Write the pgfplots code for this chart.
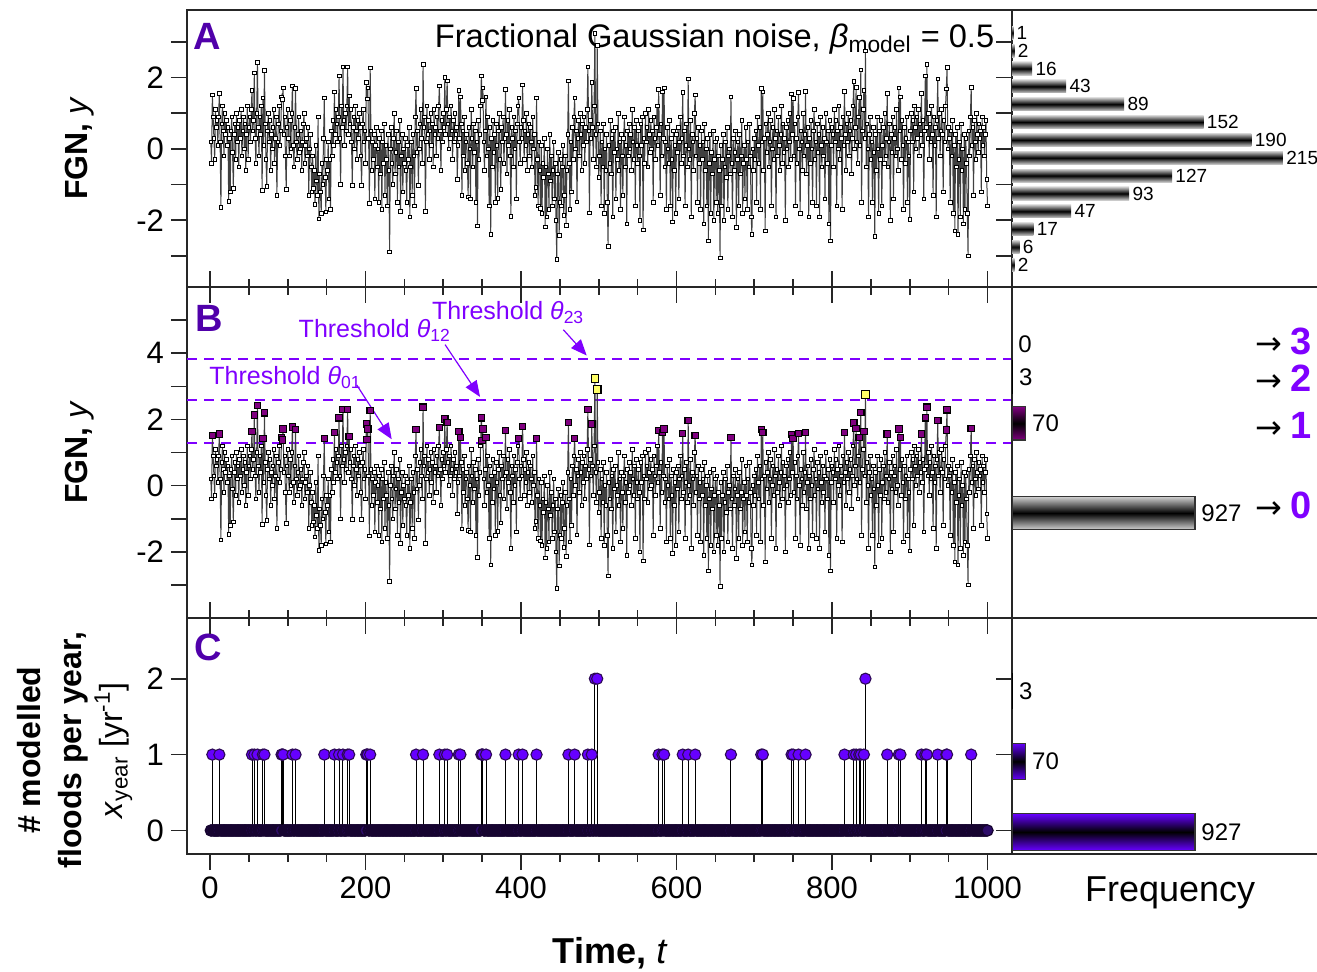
\documentclass[border=0pt]{standalone}
\usepackage{pgfplots}
\pgfplotsset{compat=1.18}
\usepackage{pgfplotstable}
\usepackage{fontspec}
\setmainfont{Liberation Sans}
\newfontfamily\djv{DejaVu Sans}
\usetikzlibrary{arrows.meta}
\definecolor{panelc}{RGB}{80,0,170}
\definecolor{vio}{RGB}{127,0,255}
\definecolor{blu}{RGB}{102,0,255}
\definecolor{purp}{RGB}{128,0,128}
\definecolor{yel}{RGB}{255,255,102}
\definecolor{dkp}{RGB}{45,10,85}
\definecolor{zfill}{RGB}{45,12,105}
\definecolor{zedge}{RGB}{22,4,48}
\pgfplotsset{/pgf/number format/assume math mode=true}
\tikzset{arr/.style={anchor=base west, inner sep=0}}
\pgfplotstableread[row sep=\\]{y\\
0.2\\-0.4\\1.51\\0.9\\0.3\\-0.3\\1.1\\0.6\\0.8\\0.1\\
0.9\\1.56\\0.2\\-1.64\\0.7\\1.2\\0.5\\-0.2\\1.0\\0.4\\
0.8\\0.1\\0.6\\-1.47\\0.3\\-1.2\\0.5\\0.9\\-0.1\\-1.1\\
0.4\\0.7\\-0.3\\1.0\\0.2\\0.6\\-0.5\\0.8\\0.3\\1.1\\
-0.2\\0.5\\0.9\\0.0\\0.7\\-0.6\\0.4\\1.2\\-0.3\\0.6\\
0.9\\0.2\\1.1\\1.64\\0.5\\0.8\\2.13\\0.3\\-0.4\\1.0\\
2.42\\0.6\\-0.2\\0.9\\0.4\\1.2\\-1.17\\1.43\\0.1\\2.20\\
0.7\\-0.3\\-1.05\\0.5\\1.0\\0.2\\0.8\\-0.6\\0.4\\0.0\\
0.6\\1.1\\-0.4\\0.3\\0.9\\-1.3\\0.2\\0.7\\1.2\\0.1\\
0.5\\1.46\\1.38\\1.71\\0.4\\0.9\\-0.2\\-1.14\\0.6\\1.1\\
0.3\\-0.2\\0.8\\0.0\\1.0\\1.77\\0.1\\-0.5\\0.6\\1.69\\
0.2\\-0.3\\0.4\\0.9\\-0.1\\0.0\\0.5\\-0.6\\0.2\\0.7\\
1.0\\-0.4\\0.1\\0.3\\-0.2\\0.6\\-1.3\\0.0\\0.4\\-0.5\\
-1.2\\-0.2\\-1.1\\-0.6\\-1.55\\0.1\\-0.9\\-1.3\\0.9\\-1.96\\
-0.7\\-1.2\\-1.8\\-0.4\\-1.0\\0.3\\1.43\\-0.8\\-1.76\\-0.3\\
-0.6\\0.2\\-1.4\\-0.3\\-1.7\\0.5\\-0.2\\0.8\\0.1\\1.60\\
0.4\\1.1\\0.7\\0.2\\0.9\\2.05\\0.3\\-1.0\\1.2\\0.6\\
2.30\\0.8\\0.1\\1.0\\0.5\\1.2\\2.30\\0.4\\1.49\\0.7\\
1.1\\0.2\\-1.02\\0.6\\0.9\\0.0\\1.2\\0.5\\-0.3\\0.8\\
0.3\\1.0\\0.6\\-0.2\\-1.02\\0.7\\1.1\\0.2\\0.5\\-0.4\\
1.86\\1.40\\1.71\\0.3\\-1.52\\2.27\\0.5\\-0.6\\0.2\\-0.3\\
0.4\\-1.4\\0.1\\0.6\\-0.5\\0.0\\-1.5\\0.3\\-0.7\\0.5\\
-1.7\\0.2\\-0.4\\0.7\\-1.3\\0.1\\-0.3\\-1.6\\0.4\\-0.6\\
-2.89\\0.0\\0.6\\-0.4\\-1.0\\0.3\\1.0\\-0.7\\-0.1\\0.5\\
-1.5\\0.2\\-0.5\\0.8\\-1.75\\-0.2\\0.4\\-1.2\\0.0\\-0.4\\
0.3\\-0.6\\-1.5\\0.1\\-0.3\\0.6\\-1.9\\-0.5\\0.2\\-1.3\\
0.4\\-0.2\\-1.6\\0.9\\1.69\\-0.1\\0.5\\-1.03\\0.0\\0.7\\
1.1\\0.3\\-0.4\\2.37\\0.6\\0.9\\-1.75\\0.2\\1.2\\0.4\\
0.8\\-0.3\\0.5\\1.0\\0.1\\0.7\\-0.5\\1.1\\0.4\\0.6\\
-0.2\\0.9\\0.3\\1.2\\1.76\\0.5\\-0.6\\0.8\\0.2\\1.0\\
0.6\\2.01\\0.4\\1.1\\1.91\\0.7\\0.0\\0.9\\0.3\\1.2\\
0.5\\-0.3\\0.8\\0.2\\1.0\\0.4\\0.6\\-0.85\\0.1\\1.64\\
0.3\\1.46\\0.7\\-1.31\\0.5\\-0.2\\0.9\\-0.6\\0.2\\0.4\\
-0.4\\-1.35\\0.6\\0.0\\-1.4\\1.1\\0.3\\-0.5\\0.7\\-0.1\\
0.5\\-1.5\\0.2\\-2.16\\0.8\\-0.3\\0.4\\1.2\\2.05\\1.36\\
1.71\\0.2\\-0.6\\0.5\\1.46\\-0.2\\0.9\\0.0\\-1.6\\0.6\\
-2.39\\0.3\\-0.5\\0.8\\-0.1\\0.4\\-1.5\\0.7\\0.1\\-1.38\\
0.5\\1.0\\-0.3\\-1.13\\0.6\\0.2\\0.9\\-0.4\\0.3\\1.66\\
0.4\\-0.7\\0.8\\0.1\\1.1\\-0.2\\-1.89\\0.6\\0.3\\-0.5\\
0.9\\0.0\\0.5\\-1.4\\0.7\\1.2\\1.43\\0.2\\-0.4\\0.6\\
0.3\\1.79\\0.8\\-0.3\\0.5\\0.1\\1.0\\-0.6\\0.4\\0.7\\
-0.2\\0.6\\0.2\\-0.5\\0.9\\0.0\\0.4\\-1.3\\-1.08\\1.43\\
-0.3\\-1.6\\0.2\\-0.6\\-1.67\\0.1\\-1.8\\-0.4\\-0.8\\0.3\\
-2.18\\-0.5\\-1.9\\0.0\\-0.7\\-1.7\\0.4\\-0.9\\-0.2\\-1.6\\
-0.6\\0.2\\-1.4\\-0.4\\-2.0\\-3.1\\-0.7\\-0.1\\-2.43\\-1.5\\
-0.3\\-1.6\\-0.5\\0.1\\-1.86\\-1.3\\-0.2\\-2.14\\-0.6\\0.4\\
1.91\\-0.4\\-1.7\\0.2\\-1.2\\0.6\\-0.3\\0.9\\1.43\\0.0\\
0.5\\-1.49\\0.3\\0.8\\-0.2\\1.0\\0.4\\-0.6\\0.7\\0.1\\
0.9\\-0.4\\0.6\\0.2\\1.1\\2.30\\0.5\\-1.79\\0.8\\0.3\\
1.86\\0.6\\-0.3\\1.2\\3.24\\0.4\\-0.5\\2.90\\0.7\\-0.8\\
-0.2\\0.5\\-1.6\\0.2\\-0.5\\0.7\\-1.8\\0.0\\-0.6\\0.4\\
-1.5\\-2.73\\0.1\\-0.4\\0.8\\-0.7\\0.3\\-1.9\\0.5\\-0.1\\
0.6\\-1.4\\0.0\\-0.3\\1.0\\-0.6\\0.2\\-1.7\\0.4\\-0.2\\
-1.3\\0.3\\0.9\\-0.5\\0.1\\-2.1\\0.5\\-0.2\\0.7\\0.0\\
0.4\\-0.6\\1.1\\0.2\\-0.3\\0.6\\-1.6\\0.8\\0.1\\-0.4\\
0.5\\-0.2\\-2.0\\0.7\\0.1\\0.9\\-2.27\\0.3\\-0.4\\1.0\\
0.2\\0.6\\-0.5\\1.1\\0.4\\-0.1\\0.8\\0.0\\0.5\\-1.5\\
0.9\\0.3\\-0.3\\0.6\\1.2\\0.1\\1.66\\0.4\\-1.3\\0.7\\
-0.2\\1.60\\0.3\\1.71\\-0.5\\0.2\\-1.7\\0.6\\0.0\\-0.4\\
0.8\\-1.6\\0.3\\-0.3\\-2.04\\0.5\\-0.6\\0.1\\-1.8\\0.4\\
-0.1\\0.6\\-1.4\\0.2\\0.9\\-0.4\\0.3\\1.58\\-0.2\\0.5\\
-1.6\\0.1\\0.7\\-0.5\\1.96\\0.0\\-0.3\\0.8\\-1.9\\0.4\\
0.2\\-0.6\\1.0\\1.51\\-0.2\\0.3\\-1.5\\0.6\\-0.4\\0.1\\
-1.7\\0.5\\-0.3\\0.2\\-2.1\\0.7\\-0.6\\0.0\\-1.6\\0.3\\
-2.58\\-0.4\\0.4\\-1.8\\-0.1\\-0.7\\0.5\\-2.0\\-0.3\\0.2\\
-1.5\\0.3\\-1.8\\-0.2\\-0.6\\-3.05\\0.1\\-1.6\\-0.3\\0.4\\
-2.0\\-0.5\\0.2\\-0.8\\0.6\\-1.7\\-0.2\\0.0\\-0.7\\1.46\\
-0.4\\-1.9\\0.3\\-0.6\\-0.1\\0.5\\-2.2\\-0.3\\0.2\\-1.6\\
0.4\\-0.7\\-0.2\\0.8\\-1.8\\-0.4\\0.1\\-1.4\\0.6\\-0.3\\
-1.7\\0.2\\-0.5\\0.7\\-0.2\\-1.9\\-2.4\\0.0\\-0.6\\0.3\\
-0.3\\0.5\\-1.5\\0.9\\0.1\\-0.4\\0.6\\-1.7\\1.69\\0.2\\
1.60\\-0.6\\0.3\\-2.3\\0.7\\-0.1\\0.4\\1.0\\-0.5\\0.2\\
0.8\\-1.6\\0.0\\0.6\\-0.3\\1.1\\0.3\\-1.9\\0.5\\-0.2\\
0.9\\0.1\\-0.6\\0.4\\1.2\\-0.4\\0.7\\-0.1\\0.3\\-2.0\\
0.6\\0.0\\0.8\\-0.5\\0.2\\1.0\\-0.3\\1.54\\0.4\\1.42\\
-0.2\\0.7\\-1.6\\0.3\\-0.4\\0.9\\1.58\\0.0\\-1.8\\0.5\\
0.2\\-0.6\\1.0\\-0.2\\0.4\\1.61\\-0.7\\0.1\\0.6\\-1.9\\
0.3\\-0.4\\0.8\\0.0\\-1.5\\0.5\\1.1\\-0.3\\0.2\\-1.6\\
0.7\\-0.1\\0.4\\-1.9\\0.9\\0.1\\-0.5\\0.6\\-0.2\\0.3\\
-1.4\\1.0\\0.2\\-0.4\\0.5\\-2.1\\0.8\\-2.58\\0.1\\0.6\\
0.4\\-0.5\\1.1\\0.2\\0.8\\-1.6\\0.5\\0.0\\1.2\\-0.3\\
0.6\\0.3\\-1.7\\0.9\\0.1\\1.61\\0.4\\-0.6\\0.7\\0.2\\
1.0\\-0.2\\0.5\\0.8\\-0.7\\0.3\\1.2\\1.89\\0.0\\0.6\\
1.73\\0.2\\-0.4\\0.9\\1.45\\0.1\\2.21\\-1.5\\0.5\\1.1\\
1.64\\0.3\\2.75\\-0.5\\0.7\\0.0\\-1.9\\0.4\\0.9\\-0.3\\
0.2\\-1.5\\0.6\\-0.1\\-2.45\\0.4\\-0.6\\0.9\\0.0\\-1.8\\
0.5\\-0.3\\0.8\\-1.6\\0.1\\0.6\\-0.4\\1.0\\-0.2\\0.3\\
1.56\\-0.5\\0.2\\0.7\\-2.0\\0.4\\-0.1\\0.9\\-1.4\\0.3\\
0.6\\-0.2\\1.1\\0.0\\-0.6\\1.71\\0.5\\1.46\\-0.3\\0.8\\
0.1\\-1.7\\0.6\\-0.4\\0.3\\0.9\\-1.5\\0.2\\-0.2\\-1.97\\
0.5\\1.0\\0.2\\0.8\\-1.2\\1.2\\0.6\\0.0\\0.9\\0.3\\
1.1\\-0.2\\0.7\\0.4\\1.56\\0.1\\0.8\\-1.4\\0.5\\2.05\\
0.6\\2.37\\0.3\\1.0\\-0.3\\0.7\\0.2\\1.2\\0.4\\-1.3\\
0.9\\0.1\\0.6\\-1.9\\0.8\\1.96\\0.3\\1.0\\-0.2\\0.5\\
1.1\\0.4\\-1.2\\0.8\\0.2\\1.2\\1.68\\2.29\\0.0\\0.6\\
0.3\\-1.5\\0.5\\-0.2\\0.8\\-1.8\\0.1\\-2.3\\0.4\\-0.5\\
0.6\\-2.4\\-0.3\\0.2\\-1.9\\0.7\\-0.6\\0.0\\-2.1\\0.4\\
-1.7\\0.3\\-0.4\\-1.8\\-3.0\\0.5\\-0.2\\0.9\\1.73\\0.1\\
0.6\\-1.3\\0.8\\0.2\\-0.3\\1.0\\0.4\\-0.1\\0.7\\0.3\\
0.5\\-1.2\\0.9\\0.1\\0.6\\-0.2\\0.4\\0.8\\-0.85\\-1.6\\
}\fgn
\pgfplotsset{
  mainax/.style={scale only axis, width=412.5pt, xmin=-29.6, xmax=1031.5,
    xtick={0,200,...,1000},
    minor xtick={50,100,150,250,300,350,450,500,550,650,700,750,850,900,950},
    major tick length=8pt, minor tick length=4pt,
    xtick align=inside, ytick align=outside, ytick pos=left,
    xticklabels={},
    axis line style={line width=0.8pt, black!85},
    every tick/.style={line width=0.8pt, black!85},
    tick label style={font=\fontsize{15.5}{15.5}\selectfont}},
  histax/.style={scale only axis, width=160pt, xmin=0, xtick=\empty,
    major tick length=8pt, ytick align=outside, ytick pos=left, yticklabels={},
    axis line style={line width=0.8pt, black!85},
    every tick/.style={line width=0.8pt, black!85}},
  ser/.style={draw=black!75, line width=0.5pt, mark=square*, mark size=0.9pt,
    mark options={fill=white, draw=black, line width=0.35pt, solid}},
  lab/.style={xbar, bar shift=0pt, draw=none, fill=none, point meta=x,
    nodes near coords, nodes near coords align=horizontal, forget plot},
  hbarA/.style={xbar, bar shift=0pt, bar width=0.37, draw=none, top color=black!20, bottom color=black!20, middle color=black, forget plot},
  hbarC/.style={xbar, bar shift=0pt, bar width=0.48, draw=black!80, line width=0.6pt, top color=blu, bottom color=blu, middle color=black, forget plot},
  thr/.style={vio, line width=1pt, dash pattern=on 5pt off 3.5pt, forget plot},
}
\newcommand\arrnum[1]{{\djv\fontsize{16}{16}\selectfont →}\hspace{4pt}{\fontsize{19}{19}\selectfont\bfseries\color{vio}#1}}
\begin{document}
\begin{tikzpicture}
\useasboundingbox (0,0) rectangle (658.5pt,485.5pt);
% ---------- Panel A ----------
\begin{axis}[mainax, at={(93.5pt,342pt)}, anchor=south west, height=138.5pt,
  ymin=-3.87, ymax=3.89, ytick={-3,-2,...,3}, yticklabels={,-2,,0,,2,},
  xtick pos=left,
  ylabel={\textbf{FGN,} \textit{y}},
  ylabel style={at={(axis description cs:-0.13,0.5)}, anchor=center, font=\fontsize{16}{16}\selectfont}]
\addplot[ser] table[x expr=\coordindex+1, y=y]{\fgn};
\node[anchor=base west, inner sep=0, text=panelc, font=\fontsize{19}{19}\selectfont\bfseries] at (axis description cs:0.0073,0.859) {A};
\node[anchor=base west, inner sep=0, font=\fontsize{16.3}{16.3}\selectfont] at (axis description cs:0.30,0.866) {Fractional Gaussian noise, \textit{β}\textsubscript{model} = 0.5};
\end{axis}
\begin{axis}[histax, at={(506pt,342pt)}, anchor=south west, height=138.5pt, xmax=253.9,
  ymin=-3.87, ymax=3.89, ytick={-3,-2,...,3}]
\addplot[hbarA] coordinates {(1,3.25)};
\addplot[hbarA] coordinates {(2,2.75)};
\addplot[hbarA] coordinates {(16,2.25)};
\addplot[hbarA] coordinates {(43,1.75)};
\addplot[hbarA] coordinates {(89,1.25)};
\addplot[hbarA] coordinates {(152,0.75)};
\addplot[hbarA] coordinates {(190,0.25)};
\addplot[hbarA] coordinates {(215,-0.25)};
\addplot[hbarA] coordinates {(127,-0.75)};
\addplot[hbarA] coordinates {(93,-1.25)};
\addplot[hbarA] coordinates {(47,-1.75)};
\addplot[hbarA] coordinates {(17,-2.25)};
\addplot[hbarA] coordinates {(6,-2.75)};
\addplot[hbarA] coordinates {(2,-3.25)};
\addplot[lab, bar width=0.37, every node near coord/.style={font=\fontsize{9.5}{9.5}\selectfont, anchor=west, inner sep=1.5pt, text=black}]
 coordinates {(1,3.25) (2,2.75) (16,2.25) (43,1.75) (89,1.25) (152,0.75) (190,0.25) (215,-0.25) (127,-0.75) (93,-1.25) (47,-1.75) (17,-2.25) (6,-2.75) (2,-3.25)};
\end{axis}
% ---------- Panel B ----------
\begin{axis}[mainax, at={(93.5pt,176.5pt)}, anchor=south west, height=165.5pt,
  ymin=-4, ymax=6, ytick={-3,-2,...,5}, yticklabels={,-2,,0,,2,,4,},
  xtick pos=both,
  ylabel={\textbf{FGN,} \textit{y}},
  ylabel style={at={(axis description cs:-0.13,0.5)}, anchor=center, font=\fontsize{16}{16}\selectfont}]
\addplot[thr] coordinates {(-29.6,1.30) (1031.5,1.30)};
\addplot[thr] coordinates {(-29.6,2.60) (1031.5,2.60)};
\addplot[thr] coordinates {(-29.6,3.82) (1031.5,3.82)};
\addplot[ser] table[x expr=\coordindex+1, y=y]{\fgn};
\addplot[only marks, mark=square*, mark size=1.6pt, mark options={fill=purp, draw=black, line width=0.55pt}, restrict y to domain=1.3:2.6] table[x expr=\coordindex+1, y=y]{\fgn};
\addplot[only marks, mark=square*, mark size=1.9pt, mark options={fill=yel, draw=black, line width=0.55pt}, restrict y to domain=2.6:3.82] table[x expr=\coordindex+1, y=y]{\fgn};
\node[anchor=base west, inner sep=0, text=panelc, font=\fontsize{19}{19}\selectfont\bfseries] at (axis description cs:0.0097,0.865) {B};
\node[anchor=base west, inner sep=0, text=vio, font=\fontsize{12.5}{12.5}\selectfont] at (axis cs:-1.3,3.04) {Threshold \textit{θ}\textsubscript{01}};
\node[anchor=base west, inner sep=0, text=vio, font=\fontsize{12.5}{12.5}\selectfont] at (axis cs:113.6,4.46) {Threshold \textit{θ}\textsubscript{12}};
\node[anchor=base west, inner sep=0, text=vio, font=\fontsize{12.5}{12.5}\selectfont] at (axis cs:285.1,5.02) {Threshold \textit{θ}\textsubscript{23}};
\draw[vio, line width=0.6pt, -{Triangle[length=8pt,width=6.5pt]}] (axis cs:188.7,3.04) -- (axis cs:233.7,1.40);
\draw[vio, line width=0.6pt, -{Triangle[length=8pt,width=6.5pt]}] (axis cs:302.3,4.26) -- (axis cs:347.3,2.68);
\draw[vio, line width=0.6pt, -{Triangle[length=8pt,width=6.5pt]}] (axis cs:454.4,4.71) -- (axis cs:484.5,3.93);
\end{axis}
\begin{axis}[histax, at={(506pt,176.5pt)}, anchor=south west, height=165.5pt, xmax=1621,
  ymin=-4, ymax=6, ytick=\empty]
\addplot[xbar, bar shift=0pt, bar width=1.0, draw=black!80, line width=0.6pt, top color=black!18, bottom color=black!18, middle color=black, forget plot] coordinates {(927,-0.83)};
\addplot[xbar, bar shift=0pt, bar width=1.0, draw=black!80, line width=0.6pt, top color=purp, bottom color=purp, middle color=black, forget plot] coordinates {(70,1.88)};
\addplot[xbar, bar shift=0pt, bar width=1.0, draw=none, fill=black, forget plot] coordinates {(3,3.28)};
\addplot[lab, bar width=1.0, every node near coord/.style={font=\fontsize{12}{12}\selectfont, anchor=west, inner sep=3pt, text=black}]
 coordinates {(927,-0.83) (70,1.88) (3,3.28) (0,4.26)};
\node[arr] at (axis cs:1231,3.95) {\arrnum{3}};
\node[arr] at (axis cs:1231,2.83) {\arrnum{2}};
\node[arr] at (axis cs:1231,1.43) {\arrnum{1}};
\node[arr] at (axis cs:1231,-1.00) {\arrnum{0}};
\end{axis}
% ---------- Panel C ----------
\begin{axis}[mainax, at={(93.5pt,58.5pt)}, anchor=south west, height=118pt,
  ymin=-0.31, ymax=2.80, ytick={0,1,2}, yticklabels={0,1,2},
  xtick pos=left, xtick align=outside, xticklabels={0,200,400,600,800,1000},
  xlabel={\textbf{Time,} \textit{t}},
  xlabel style={at={(axis description cs:0.513,-0.42)}, anchor=center, font=\fontsize{18}{18}\selectfont},
  ylabel={\textbf{\# modelled}\\\textbf{floods per year,}\\\textit{x}\textsubscript{year} [yr\textsuperscript{-1}]},
  ylabel style={align=center, at={(axis description cs:-0.136,0.44)}, anchor=center, font=\fontsize{16}{20.5}\selectfont}]
\addplot[only marks, mark=*, mark size=2.8pt, mark options={fill=zfill, draw=zedge, line width=0.6pt}, restrict y to domain=-0.5:0.5]
 table[x index=0, y index=0, x expr=\coordindex+1, y expr={(\thisrow{y}>1.3)+(\thisrow{y}>2.6)+(\thisrow{y}>3.82)}]{\fgn};
\addplot[ycomb, black, line width=0.5pt, mark=*, mark size=2.8pt, mark options={fill=blu, draw=dkp, line width=0.55pt}, restrict y to domain=0.5:3.5]
 table[x index=0, y index=0, x expr=\coordindex+1, y expr={(\thisrow{y}>1.3)+(\thisrow{y}>2.6)+(\thisrow{y}>3.82)}]{\fgn};
\node[anchor=base west, inner sep=0, text=panelc, font=\fontsize{19}{19}\selectfont\bfseries] at (axis description cs:0.0085,0.819) {C};
\end{axis}
\begin{axis}[mainax, at={(93.5pt,58.5pt)}, anchor=south west, height=118pt,
  ymin=0, ymax=1, ytick=\empty, xtick pos=right, xtick align=inside, axis line style={draw=none}]
\addplot[draw=none] coordinates {(0,0.5)};
\end{axis}
\begin{axis}[histax, at={(506pt,58.5pt)}, anchor=south west, height=118pt, xmax=1621,
  ymin=-0.31, ymax=2.80, ytick={0,1,2},
  xlabel={Frequency}, xlabel style={at={(axis description cs:0.494,-0.165)}, anchor=center, font=\fontsize{18}{18}\selectfont}]
\addplot[hbarC] coordinates {(927,-0.02)};
\addplot[hbarC] coordinates {(70,0.91)};
\addplot[xbar, bar shift=0pt, bar width=0.48, draw=none, fill=black, forget plot] coordinates {(3,1.84)};
\addplot[lab, bar width=0.48, every node near coord/.style={font=\fontsize{12}{12}\selectfont, anchor=west, inner sep=3pt, text=black}]
 coordinates {(927,-0.02) (70,0.91) (3,1.84)};
\end{axis}
\end{tikzpicture}
\end{document}
